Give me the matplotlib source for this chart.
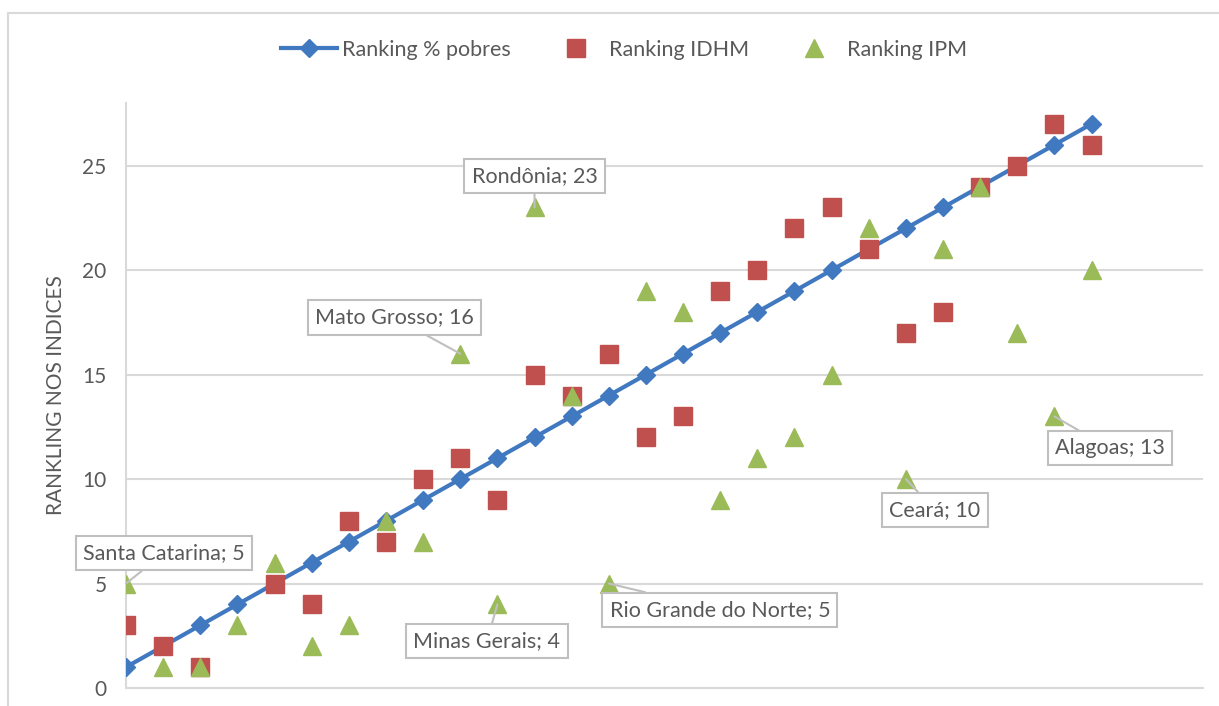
import matplotlib.pyplot as plt
from matplotlib.lines import Line2D
import numpy as np

# posições (ordem dos estados no ranking de % pobres)
posicoes = list(range(1, 28))
ranking_pobres = list(range(1, 28))
ranking_idhm = [3, 2, 1, np.nan, 5, 4, 8, 7, 10, 11, 9, 15, 14, 16, 12, 13,
                19, 20, 22, 23, 21, 17, 18, 24, 25, 27, 26]
ranking_ipm = [5, 1, 1, 3, 6, 2, 3, 8, 7, 16, 4, 23, 14, 5, 19, 18,
               9, 11, 12, 15, 22, 10, 21, 24, 17, 13, 20]

# rótulos de alguns pontos do IPM: (índice, nome)
rotulos = [(0, "Santa Catarina"), (9, "Mato Grosso"), (10, "Minas Gerais"),
           (11, "Rondônia"), (13, "Rio Grande do Norte"), (21, "Ceará"),
           (25, "Alagoas")]
# posição das caixas de texto (em coordenadas dos dados)
pos_caixas = [(2.02, 6.45), (8.22, 17.73), (10.72, 2.25), (12.0, 24.52),
              (16.99, 3.73), (22.78, 8.51), (27.49, 11.47)]

plt.rcParams['font.family'] = ['Lato', 'DejaVu Sans']
cinza = '#595959'
grade = '#D9D9D9'

fig = plt.figure(figsize=(12.19, 7.06), dpi=100)
ax = fig.add_axes([126/1219, 18/706, (1203-126)/1219, (688-103)/706])

ax.plot(posicoes, ranking_pobres, color='#4179C0', lw=3, marker='D', ms=9,
        label='Ranking % pobres', zorder=3)
ax.plot(posicoes, ranking_idhm, ls='none', marker='s', ms=13, color='#C0504D',
        label='Ranking IDHM', zorder=4)
ax.plot(posicoes, ranking_ipm, ls='none', marker='^', ms=13, color='#9BBB59',
        label='Ranking IPM', zorder=5)

for (i, nome), (tx, ty) in zip(rotulos, pos_caixas):
    ax.annotate(f"{nome}; {ranking_ipm[i]}", xy=(posicoes[i], ranking_ipm[i]),
                xytext=(tx, ty), ha='center', va='center', fontsize=15.5, color=cinza,
                bbox=dict(boxstyle='square,pad=0.33', fc='white', ec='#BFBFBF', lw=1.5),
                arrowprops=dict(arrowstyle='-', color='#BFBFBF', lw=1.5, shrinkA=0, shrinkB=0),
                zorder=6)

ax.set_xlim(1, 30)
ax.set_ylim(0, 28)
ax.set_yticks([0, 5, 10, 15, 20, 25])
ax.set_xticks([])
ax.grid(axis='y', color=grade, lw=1.5)
ax.set_axisbelow(True)
for lado in ['top', 'right']:
    ax.spines[lado].set_visible(False)
for lado in ['left', 'bottom']:
    ax.spines[lado].set_color(grade)
    ax.spines[lado].set_linewidth(1.5)
ax.tick_params(axis='y', length=0, labelsize=15, labelcolor=cinza, pad=14)
ax.set_ylabel("RANKLING NOS INDICES", fontsize=15, color=cinza, labelpad=12)

fig.legend(loc='center', bbox_to_anchor=(624/1219, 1-50/706), ncol=3, frameon=False,
           fontsize=15.5, labelcolor=cinza, columnspacing=1.7, handlelength=2.6,
           handletextpad=0.25)

# borda externa do gráfico
fig.add_artist(Line2D([8/1219, 8/1219], [0, 1-13/706], color=grade, lw=1.5))
fig.add_artist(Line2D([8/1219, 1], [1-13/706, 1-13/706], color=grade, lw=1.5))

fig.savefig('out.png', dpi=100, facecolor='white')
